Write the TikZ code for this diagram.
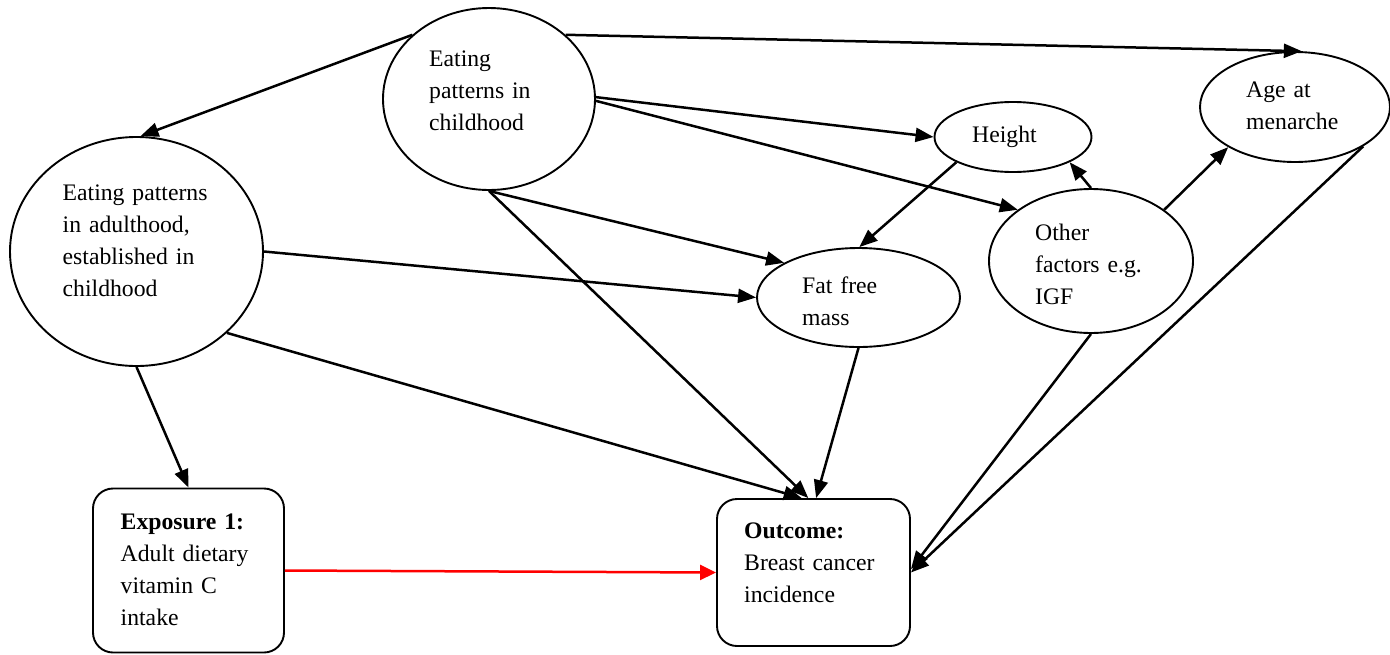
\documentclass[tikz,border=0pt]{standalone}
\usepackage{fontspec}
\setmainfont{Liberation Serif}
\usetikzlibrary{arrows.meta,shapes.geometric}
\begin{document}
\begin{tikzpicture}[x=1pt,y=-1pt,
  oval/.style={ellipse,draw,line width=1.9pt,inner sep=0pt},
  card/.style={rectangle,rounded corners=20pt,draw,line width=1.9pt,inner sep=0pt},
  caption/.style={anchor=base west,inner sep=0pt,align=left,text width=#1,
    font=\fontsize{23.7}{32}\selectfont},
  link/.style={line width=2.5pt,-{Triangle[length=18pt,width=14pt]}},
]
\useasboundingbox (0,0) rectangle (1390,654);

% shapes
\node[oval,minimum width=212pt,minimum height=182pt] (child)  at (489,99) {};
\node[oval,minimum width=253pt,minimum height=229pt] (adult)  at (136.5,251.5) {};
\node[oval,minimum width=157pt,minimum height=70pt]  (height) at (1013,137) {};
\node[oval,minimum width=190pt,minimum height=110pt] (age)    at (1295,107) {};
\node[oval,minimum width=204pt,minimum height=144pt] (other)  at (1091,261) {};
\node[oval,minimum width=203pt,minimum height=99pt]  (ffm)    at (858.5,297.5) {};
\node[card,minimum width=191pt,minimum height=164pt] (expo)   at (188.5,570.5) {};
\node[card,minimum width=193pt,minimum height=147pt] (outcome) at (813.5,572.5) {};

% captions
\node[caption=160pt] (child-t)   at (429,66)    {Eating\\patterns in\\childhood};
\node[caption=200pt] (adult-t)   at (62.5,200)  {Eating patterns\\in adulthood,\\established in\\childhood};
\node[caption=120pt] (height-t)  at (972,142)   {Height};
\node[caption=140pt] (age-t)     at (1246,97)   {Age at\\menarche};
\node[caption=160pt] (other-t)   at (1035,240)  {Other\\factors e.g.\\IGF};
\node[caption=140pt] (ffm-t)     at (802,293)   {Fat free\\mass};
\node[caption=160pt] (expo-t)    at (120.5,529) {\textbf{Exposure 1:}\\Adult dietary\\vitamin C\\intake};
\node[caption=160pt] (outcome-t) at (744,538)   {\textbf{Outcome:}\\Breast cancer\\incidence};

% connectors
\draw[link] (child.140) -- (adult.88);
\draw[link] (child.40)  -- (age.83);
\draw[link] (child.1)   -- (height.180);
\draw[link] (child.-1)  -- (other.145);
\draw[link] (child.-90) -- (ffm.155);
\draw[link] (child.-90) -- (outcome.94);
\draw[link] (ffm.-90)   -- (outcome.88);
\draw[link] (adult.0)   -- (ffm.180);
\draw[link] (adult.-42) -- (outcome.99);
\draw[link] (adult.-90) -- (expo.north);
\draw[link] (height.-156) -- (ffm.89);
\draw[link] (other.90)  -- (height.-24);
\draw[link] (other.35)  -- (age.-149);
\draw[link] (other.-90) -- (outcome.2);
\draw[link] (age.-30)   -- (outcome.0);
\draw[link,red,-{Triangle[length=16pt,width=15pt]}] (expo.east) -- (outcome.west);
\end{tikzpicture}
\end{document}
